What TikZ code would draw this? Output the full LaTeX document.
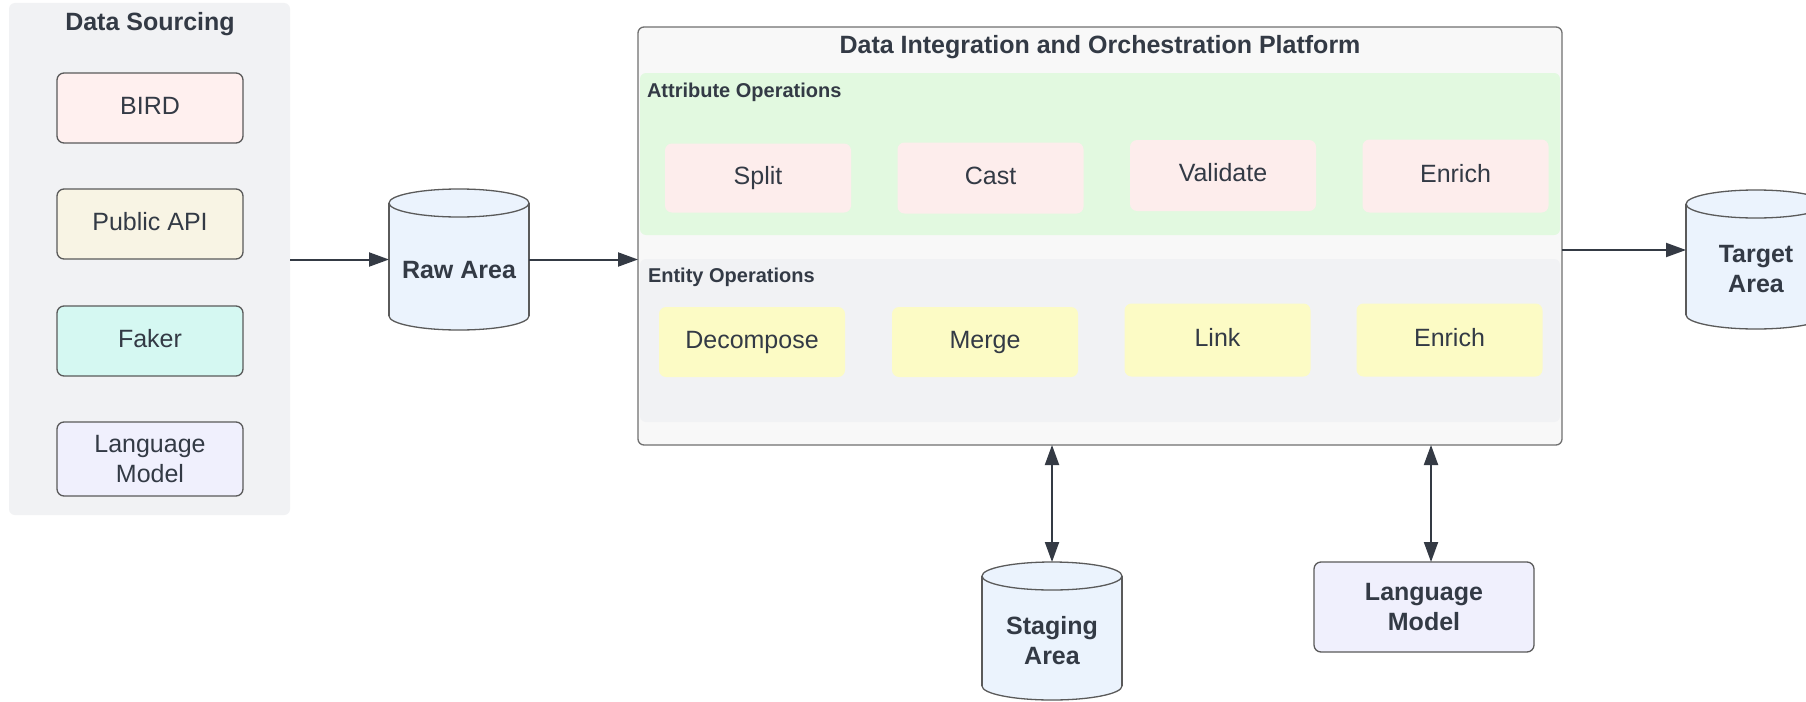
\documentclass[tikz,border=0pt]{standalone}
\usepackage{fontspec}
\setmainfont{Liberation Sans}
\usetikzlibrary{arrows.meta,calc}
\definecolor{txt}{HTML}{333A45}
\definecolor{panelgray}{HTML}{F1F2F4}
\definecolor{birdc}{HTML}{FFF0EF}
\definecolor{pubc}{HTML}{F8F4E4}
\definecolor{fakerc}{HTML}{D5F8F2}
\definecolor{lmc}{HTML}{F0F0FD}
\definecolor{platfill}{HTML}{F8F8F8}
\definecolor{platborder}{HTML}{707070}
\definecolor{greenc}{HTML}{E2F9E0}
\definecolor{pinkc}{HTML}{FDEDEC}
\definecolor{entc}{HTML}{F1F2F4}
\definecolor{yellowc}{HTML}{FCFBC5}
\definecolor{cylc}{HTML}{EBF3FD}
\definecolor{borderc}{HTML}{5A5A5A}
\definecolor{arrowc}{HTML}{343A44}
\newcommand\cylshape[1]{%
  \path[cylstyle] ($(#1.south)+(0,-14)$) ellipse [x radius=70, y radius=14];
  \fill[cylc] ($(#1.north west)+(0,14)$) rectangle ($(#1.south east)+(0,-14)$);
  \draw[cylline] ($(#1.north west)+(0,14)$) -- ($(#1.south west)+(0,-14)$);
  \draw[cylline] ($(#1.north east)+(0,14)$) -- ($(#1.south east)+(0,-14)$);
  \path[cylstyle] ($(#1.north)+(0,14)$) ellipse [x radius=70, y radius=14];
}
\tikzset{
  basebox/.style={rectangle, inner sep=0pt, outer sep=0pt, align=center, text=txt,
    font=\fontsize{25}{30}\selectfont},
  oneline/.style={text height=18pt, text depth=6pt},
  srcbox/.style={basebox, rounded corners=7pt, draw=borderc, line width=1.3pt,
    minimum width=186pt, minimum height=70pt},
  opbox/.style={basebox, oneline, rounded corners=7pt, minimum width=186pt, minimum height=70pt},
  region/.style={rectangle, rounded corners=6pt, inner sep=0pt, outer sep=0pt},
  bigtitle/.style={basebox, font=\fontsize{25}{30}\selectfont\bfseries},
  seclabel/.style={basebox, font=\fontsize{20}{24}\selectfont\bfseries},
  cylnode/.style={rectangle, inner sep=0pt, outer sep=0pt, minimum width=140pt},
  cylstyle/.style={fill=cylc, draw=borderc, line width=1.3pt},
  cylline/.style={draw=borderc, line width=1.3pt},
  cyltext/.style={basebox, font=\fontsize{25}{30}\selectfont\bfseries},
  tip/.tip={Triangle[length=20pt,width=14pt]},
  arr/.style={line width=2pt, draw=arrowc, -tip},
  darr/.style={line width=2pt, draw=arrowc, tip-tip},
}
\begin{document}
\begin{tikzpicture}[x=1pt,y=-1pt]
\useasboundingbox (0,0) rectangle (1806,701);
\fill[white] (0,0) rectangle (1806,701);

% Data Sourcing panel
\node[region, fill=panelgray, minimum width=281pt, minimum height=512pt] (src) at (149.5,259) {};
\node[bigtitle] (srct) at (150,24) {Data Sourcing};
\node[srcbox, oneline, fill=birdc] (bird) at (150,108) {BIRD};
\node[srcbox, oneline, fill=pubc] (pub) at (150,224) {Public API};
\node[srcbox, oneline, fill=fakerc] (faker) at (150,341) {Faker};
\node[srcbox, fill=lmc, minimum height=74pt] (lm1) at (150,459) {Language\\Model};

% Raw area
\node[cylnode, minimum height=141pt] (raw) at (459,259.5) {};
\cylshape{raw}
\node[cyltext] (rawt) at (459,270) {Raw Area};

% Platform
\node[region, fill=platfill, draw=platborder, line width=1.3pt, minimum width=924pt, minimum height=418pt] (plat) at (1100,236) {};
\node[bigtitle] (platt) at (1100,47) {Data Integration and Orchestration Platform};
\node[region, fill=greenc, minimum width=920pt, minimum height=162pt] (attr) at (1100,154) {};
\node[seclabel, anchor=base west] (attrl) at (647,97) {Attribute Operations};
\node[opbox, fill=pinkc, minimum height=69pt] (split) at (758,178) {Split};
\node[opbox, fill=pinkc, minimum height=71pt] (cast) at (990.5,178) {Cast};
\node[opbox, fill=pinkc, minimum height=71pt] (valid) at (1223,175.5) {Validate};
\node[opbox, fill=pinkc, minimum height=73pt] (enr1) at (1455.5,176) {Enrich};
\node[region, fill=entc, minimum width=920pt, minimum height=163pt] (ent) at (1100,340.5) {};
\node[seclabel, anchor=base west] (entl) at (648,282) {Entity Operations};
\node[opbox, fill=yellowc] (dec) at (752,342) {Decompose};
\node[opbox, fill=yellowc] (merge) at (985,342) {Merge};
\node[opbox, fill=yellowc, minimum height=73pt] (link) at (1217.5,340) {Link};
\node[opbox, fill=yellowc, minimum height=73pt] (enr2) at (1449.5,340) {Enrich};

% Target area
\node[cylnode, minimum height=139pt] (tgt) at (1756,259.5) {};
\cylshape{tgt}
\node[cyltext] (tgtt) at (1756,269) {Target\\Area};

% Staging area
\node[cylnode, minimum height=138pt] (stg) at (1052,631) {};
\cylshape{stg}
\node[cyltext] (stgt) at (1052,641) {Staging\\Area};

% Language model (bottom)
\node[basebox, rounded corners=7pt, draw=borderc, line width=1.3pt, fill=lmc,
  minimum width=220pt, minimum height=90pt, font=\fontsize{25}{30}\selectfont\bfseries] (lm2) at (1424,607) {Language\\Model};

% Connectors
\draw[arr] (src.east |- raw.west) -- (raw.west);
\draw[arr] (raw.east) -- (plat.west |- raw.east);
\draw[arr] ([yshift=9.5pt]plat.east |- tgt.west) -- ([yshift=9.5pt]tgt.west);
\draw[darr] (plat.south -| stg.north) -- (stg.north);
\draw[darr] ([xshift=7pt]plat.south -| lm2.north) -- ([xshift=7pt]lm2.north);
\end{tikzpicture}
\end{document}
